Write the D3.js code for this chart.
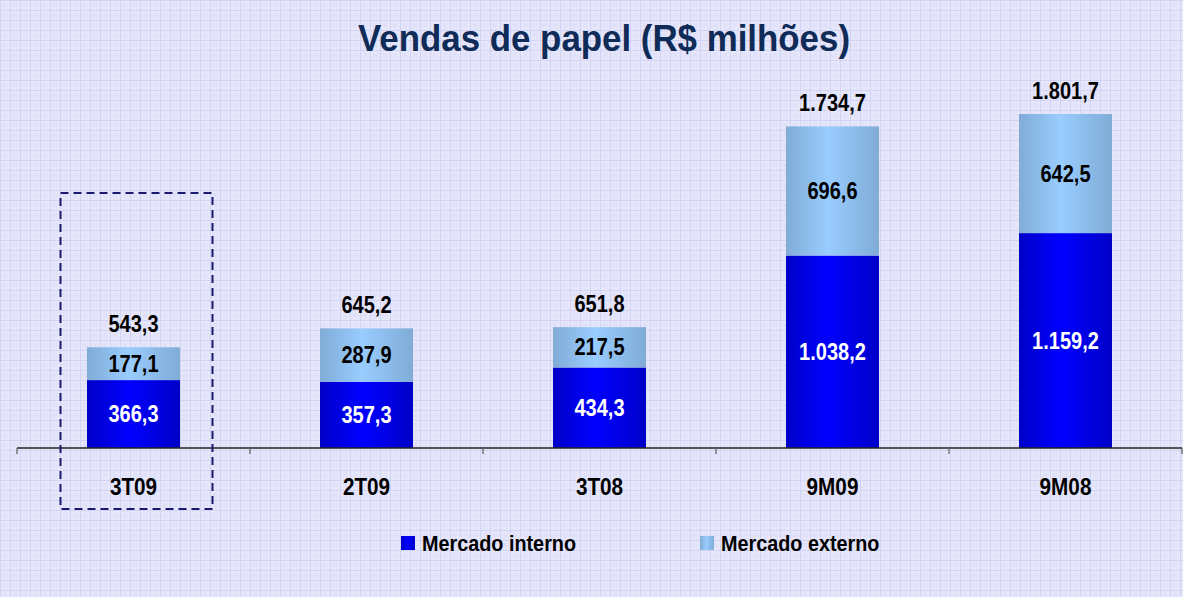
<!DOCTYPE html>
<html>
<head>
<meta charset="utf-8">
<script src="https://cdn.jsdelivr.net/npm/d3@7"></script>
<style>
  body { margin: 0; background: #fff; }
  svg { display: block; }
  text { font-family: "Liberation Sans", Arial, sans-serif; font-weight: bold; }
</style>
</head>
<body>
<div id="chart"></div>
<script>
// chart data
var categories = ["3T09", "2T09", "3T08", "9M09", "9M08"];
var interno = [366.3, 357.3, 434.3, 1038.2, 1159.2];
var externo = [177.1, 287.9, 217.5, 696.6, 642.5];
var totais = [543.3, 645.2, 651.8, 1734.7, 1801.7];
var labInterno = ["366,3", "357,3", "434,3", "1.038,2", "1.159,2"];
var labExterno = ["177,1", "287,9", "217,5", "696,6", "642,5"];
var labTotal = ["543,3", "645,2", "651,8", "1.734,7", "1.801,7"];
var seriesNames = ["Mercado interno", "Mercado externo"];

var W = 1183, H = 597;
var margin = {left: 17, right: 1};
var baseY = 448;

var svg = d3.select("#chart").append("svg")
    .attr("width", W)
    .attr("height", H);

var defs = svg.append("defs");

// grid paper background
var pat = defs.append("pattern")
    .attr("id", "grid")
    .attr("width", 10).attr("height", 10)
    .attr("patternUnits", "userSpaceOnUse");
pat.append("rect").attr("width", 10).attr("height", 10).attr("fill", "#e6e6fb");
pat.append("rect").attr("x", 3).attr("y", 3).attr("width", 4).attr("height", 4).attr("fill", "#e0e0f9");
pat.append("rect").attr("width", 10).attr("height", 1).attr("fill", "#d3d3f5");
pat.append("rect").attr("width", 1).attr("height", 10).attr("fill", "#d3d3f5");

function hgrad(id, edge, mid) {
    var g = defs.append("linearGradient").attr("id", id)
        .attr("x1", "0%").attr("x2", "100%").attr("y1", "0%").attr("y2", "0%");
    g.append("stop").attr("offset", "0%").attr("stop-color", edge);
    g.append("stop").attr("offset", "45%").attr("stop-color", mid);
    g.append("stop").attr("offset", "100%").attr("stop-color", edge);
}
hgrad("gInt", "#0000c8", "#0000ff");
hgrad("gExt", "#80acd6", "#99ccff");

svg.append("rect").attr("width", W).attr("height", H).attr("fill", "url(#grid)");

// squeeze text a bit, the original uses a narrow font
function narrow(sel, k) {
    sel.each(function() {
        var w = this.getComputedTextLength();
        d3.select(this).attr("textLength", w * k).attr("lengthAdjust", "spacingAndGlyphs");
    });
}

// title
svg.append("text")
    .attr("x", 604).attr("y", 51)
    .attr("text-anchor", "middle")
    .attr("fill", "#0f2b57")
    .style("font-size", "37px")
    .text("Vendas de papel (R$ milhões)")
    .attr("textLength", 492)
    .attr("lengthAdjust", "spacingAndGlyphs");

var x = d3.scaleBand()
    .domain(categories)
    .range([margin.left, W - margin.right])
    .paddingInner(0).paddingOuter(0);

var y = d3.scaleLinear()
    .domain([0, 1801.7])
    .range([baseY, 114]);

var bw = 93;

var rows = categories.map(function(c, i) {
    return {cat: c, i: interno[i], e: externo[i], t: totais[i],
            li: labInterno[i], le: labExterno[i], lt: labTotal[i]};
});

var g = svg.append("g");

// interno bars
g.selectAll(".int").data(rows).enter().append("rect")
    .attr("x", function(d) { return x(d.cat) + x.bandwidth()/2 - bw/2; })
    .attr("y", function(d) { return y(d.i); })
    .attr("width", bw)
    .attr("height", function(d) { return baseY - y(d.i); })
    .attr("fill", "url(#gInt)");

// externo bars
g.selectAll(".ext").data(rows).enter().append("rect")
    .attr("x", function(d) { return x(d.cat) + x.bandwidth()/2 - bw/2; })
    .attr("y", function(d) { return y(d.i + d.e); })
    .attr("width", bw)
    .attr("height", function(d) { return y(d.i) - y(d.i + d.e); })
    .attr("fill", "url(#gExt)");

// labels
var li = g.selectAll(".li").data(rows).enter().append("text")
    .attr("x", function(d) { return x(d.cat) + x.bandwidth()/2; })
    .attr("y", function(d) { return (y(d.i) + baseY)/2 + 8; })
    .attr("text-anchor", "middle")
    .attr("fill", "#fff")
    .style("font-size", "23px")
    .text(function(d) { return d.li; });

var le = g.selectAll(".le").data(rows).enter().append("text")
    .attr("x", function(d) { return x(d.cat) + x.bandwidth()/2; })
    .attr("y", function(d) { return (y(d.i) + y(d.i + d.e))/2 + 8; })
    .attr("text-anchor", "middle")
    .attr("fill", "#000")
    .style("font-size", "23px")
    .text(function(d) { return d.le; });

var lt = g.selectAll(".lt").data(rows).enter().append("text")
    .attr("x", function(d) { return x(d.cat) + x.bandwidth()/2; })
    .attr("y", function(d) { return y(d.t) - 15; })
    .attr("text-anchor", "middle")
    .attr("fill", "#000")
    .style("font-size", "23px")
    .text(function(d) { return d.lt; });

narrow(li, 0.87);
narrow(le, 0.87);
narrow(lt, 0.87);

// x axis
var xAxis = d3.axisBottom(x).tickSize(0).tickPadding(0);
var ax = svg.append("g").attr("transform", "translate(0," + baseY + ")").call(xAxis);
ax.select(".domain").remove();
ax.append("line").attr("x1", margin.left).attr("x2", W - margin.right)
    .attr("stroke", "#222").attr("stroke-width", 1.3);
ax.selectAll(".sep").data(categories.concat(["end"])).enter().append("line")
    .attr("x1", function(d, i) { return margin.left + i * x.bandwidth(); })
    .attr("x2", function(d, i) { return margin.left + i * x.bandwidth(); })
    .attr("y1", 0).attr("y2", 6)
    .attr("stroke", "#666").attr("stroke-width", 1.3);
var tt = ax.selectAll(".tick text")
    .attr("y", 47)
    .attr("dy", 0)
    .attr("fill", "#000")
    .style("font-size", "23px")
    .style("font-family", "'Liberation Sans', Arial, sans-serif");
narrow(tt, 0.9);

// highlight box around first category
svg.append("rect")
    .attr("x", x(categories[0]) + x.bandwidth()/2 - 73)
    .attr("y", 193)
    .attr("width", 152)
    .attr("height", 316)
    .attr("fill", "none")
    .attr("stroke", "#1a1a6e")
    .attr("stroke-width", 2)
    .attr("stroke-dasharray", "8,5");

// legend
var legX = [401, 700];
var leg = svg.selectAll(".leg").data(seriesNames).enter().append("g")
    .attr("transform", function(d, i) { return "translate(" + legX[i] + ",536)"; });
leg.append("rect").attr("width", 14).attr("height", 14)
    .attr("fill", function(d, i) { return i === 0 ? "url(#gInt)" : "url(#gExt)"; });
var lg = leg.append("text").attr("x", 21).attr("y", 15)
    .attr("fill", "#000")
    .style("font-size", "22px")
    .text(function(d) { return d; });
narrow(lg, 0.9);
</script>
</body>
</html>
